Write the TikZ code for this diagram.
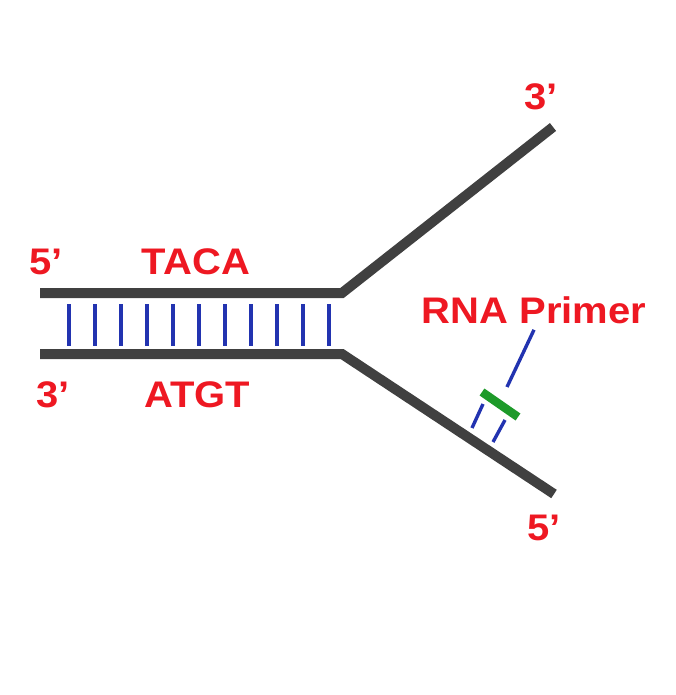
\documentclass[tikz,border=0pt]{standalone}
\usepackage{fontspec}
\setmainfont{Liberation Sans}
\usetikzlibrary{calc}
\definecolor{strandgray}{HTML}{404040}
\definecolor{bondblue}{HTML}{2233B0}
\definecolor{primergreen}{HTML}{1E9A2A}
\definecolor{labelred}{HTML}{EE1822}
\tikzset{
  strand/.style={line width=10pt, color=strandgray},
  bond/.style={line width=3.4pt, color=bondblue},
  lbl/.style={text=labelred, font=\fontsize{37}{37}\selectfont\bfseries, inner sep=0pt, xscale=1.08}
}
\begin{document}
\begin{tikzpicture}[x=1pt,y=-1pt]
    \useasboundingbox (0,0) rectangle (675,695);
    \coordinate (topleft) at (40,293);
    \coordinate (topfork) at (342,293);
    \coordinate (topend) at (553,127);
    \coordinate (botleft) at (40,354);
    \coordinate (botfork) at (342,354);
    \coordinate (botend) at (554,494);
    \draw[strand] (topleft) -- (topfork) -- (topend);
    \draw[strand] (botleft) -- (botfork) -- (botend);
    \foreach \x in {69,95,...,329}
        \draw[bond] (\x,304) -- (\x,346);
    \node[lbl] (fivetop) at (46,262) {5’};
    \node[lbl] (taca) at (196,262) {TACA};
    \node[lbl] (threebot) at (53,395) {3’};
    \node[lbl] (atgt) at (197,395) {ATGT};
    \node[lbl] (threeend) at (541,97) {3’};
    \node[lbl] (fiveend) at (544,528) {5’};
    \node[lbl] (primer) at (534,310) {RNA Primer};
    \coordinate (pa) at (482,392);
    \coordinate (pb) at (518,417);
    \draw[line width=8.5pt, color=primergreen] (pa) -- (pb);
    \coordinate (tip) at (507,387);
    \draw[bond] (primer.south) ++(0,6) coordinate (ptr) (ptr) -- (tip);
    \draw[bond] (472,428) -- (483,404);
    \draw[bond] (493,442) -- (505,420);
\end{tikzpicture}
\end{document}
